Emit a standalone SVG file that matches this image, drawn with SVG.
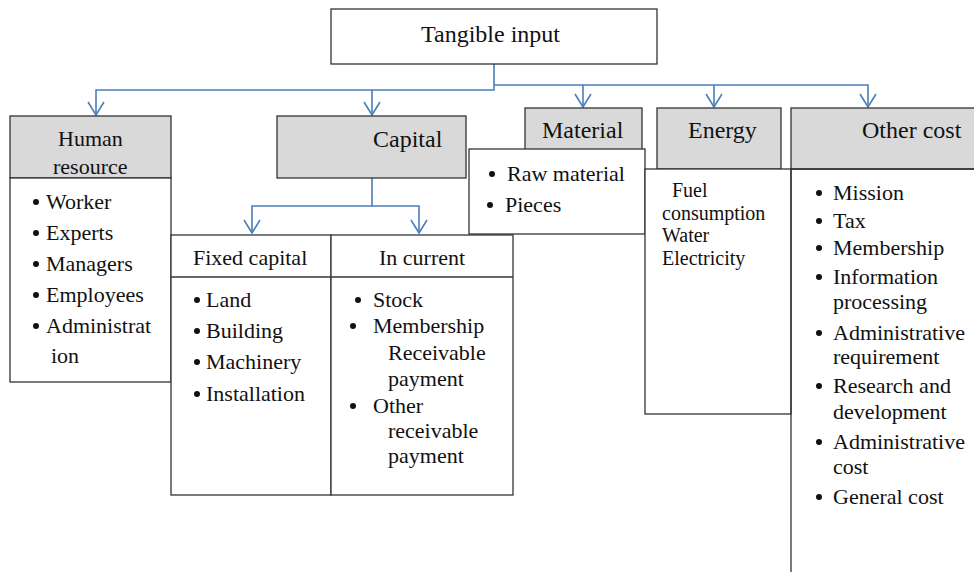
<svg xmlns="http://www.w3.org/2000/svg" width="974" height="572" viewBox="0 0 974 572">
<style>
.box{fill:#fff;stroke:#333;stroke-width:1.3}
.hdr{fill:#d9d9d9;stroke:#333;stroke-width:1.3}
.ln{fill:none;stroke:#333;stroke-width:1.3}
.con{fill:none;stroke:#4a7ebb;stroke-width:1.6}
text{font-family:"Liberation Serif","Times New Roman",serif;fill:#111}
.h{font-size:24px}
.m{font-size:22px}
.s{font-size:20px}
.b{fill:#111}
</style>
<defs>
<marker id="arr" viewBox="-15 -10 17 20" refX="0" refY="0" markerWidth="17" markerHeight="20" markerUnits="userSpaceOnUse" orient="auto">
<path d="M-13,-8 L0,0 L-13,8" fill="none" stroke="#4a7ebb" stroke-width="1.6"/>
</marker>
</defs>
<rect width="974" height="572" fill="#fff"/>

<g id="connectors">
<path class="con" d="M494,64 V90 H96 V115" marker-end="url(#arr)"/>
<path class="con" d="M372,90 V115" marker-end="url(#arr)"/>
<path class="con" d="M494,85 H868 V107" marker-end="url(#arr)"/>
<path class="con" d="M583,85 V107" marker-end="url(#arr)"/>
<path class="con" d="M714,85 V107" marker-end="url(#arr)"/>
<path class="con" d="M372,178 V206 H252 V233" marker-end="url(#arr)"/>
<path class="con" d="M372,206 H419 V233" marker-end="url(#arr)"/>
</g>

<g id="tangible">
<rect class="box" x="331" y="9" width="326" height="55"/>
<text class="h" x="421" y="42">Tangible input</text>
</g>

<g id="human">
<rect class="hdr" x="10" y="116" width="161" height="62"/>
<text class="m" x="58" y="146">Human</text>
<text class="m" x="53" y="174">resource</text>
<rect class="box" x="10" y="178" width="161" height="204"/>
<circle class="b" cx="36" cy="202" r="3"/><text class="m" x="46" y="209">Worker</text>
<circle class="b" cx="36" cy="233" r="3"/><text class="m" x="46" y="240">Experts</text>
<circle class="b" cx="36" cy="264" r="3"/><text class="m" x="46" y="271">Managers</text>
<circle class="b" cx="36" cy="295" r="3"/><text class="m" x="46" y="302">Employees</text>
<circle class="b" cx="36" cy="326" r="3"/><text class="m" x="46" y="333">Administrat</text>
<text class="m" x="51" y="363">ion</text>
</g>

<g id="capital">
<rect class="hdr" x="277" y="116" width="189" height="62"/>
<text class="h" x="373" y="147">Capital</text>
</g>

<g id="fixed">
<rect class="box" x="171" y="235" width="160" height="260"/>
<line class="ln" x1="171" y1="277" x2="331" y2="277"/>
<text class="m" x="193" y="265">Fixed capital</text>
<circle class="b" cx="197" cy="300" r="3"/><text class="m" x="206" y="307">Land</text>
<circle class="b" cx="197" cy="331" r="3"/><text class="m" x="206" y="338">Building</text>
<circle class="b" cx="197" cy="362" r="3"/><text class="m" x="206" y="369">Machinery</text>
<circle class="b" cx="197" cy="394" r="3"/><text class="m" x="206" y="401">Installation</text>
</g>

<g id="current">
<rect class="box" x="331" y="235" width="182" height="260"/>
<line class="ln" x1="331" y1="277" x2="513" y2="277"/>
<text class="m" x="379" y="265">In current</text>
<circle class="b" cx="358" cy="300" r="3"/><text class="m" x="373" y="307">Stock</text>
<circle class="b" cx="353" cy="326" r="3"/><text class="m" x="373" y="333">Membership</text>
<text class="m" x="388" y="360">Receivable</text>
<text class="m" x="388" y="386">payment</text>
<circle class="b" cx="353" cy="406" r="3"/><text class="m" x="373" y="413">Other</text>
<text class="m" x="388" y="438">receivable</text>
<text class="m" x="388" y="463">payment</text>
</g>

<g id="material">
<rect class="hdr" x="525" y="108" width="117" height="45"/>
<text class="h" x="542" y="138">Material</text>
<rect class="box" x="469" y="149" width="176" height="85"/>
<circle class="b" cx="492" cy="174" r="3"/><text class="m" x="507" y="181">Raw material</text>
<circle class="b" cx="490" cy="205" r="3"/><text class="m" x="505" y="212">Pieces</text>
</g>

<g id="energy">
<rect class="hdr" x="657" y="108" width="124" height="61"/>
<text class="h" x="688" y="138">Energy</text>
<rect class="box" x="645" y="169" width="146" height="245"/>
<text class="s" x="672" y="197">Fuel</text>
<text class="s" x="662" y="220">consumption</text>
<text class="s" x="662" y="242">Water</text>
<text class="s" x="662" y="265">Electricity</text>
</g>

<g id="other">
<rect class="hdr" x="791" y="108" width="190" height="61"/>
<text class="h" x="862" y="138">Other cost</text>
<path class="ln" d="M974,169 H791 V572"/>
<circle class="b" cx="819" cy="193" r="3"/><text class="m" x="833" y="200">Mission</text>
<circle class="b" cx="819" cy="221" r="3"/><text class="m" x="833" y="228">Tax</text>
<circle class="b" cx="819" cy="248" r="3"/><text class="m" x="833" y="255">Membership</text>
<circle class="b" cx="819" cy="277" r="3"/><text class="m" x="833" y="284">Information</text>
<text class="m" x="833" y="309">processing</text>
<circle class="b" cx="819" cy="333" r="3"/><text class="m" x="833" y="340">Administrative</text>
<text class="m" x="833" y="364">requirement</text>
<circle class="b" cx="819" cy="386" r="3"/><text class="m" x="833" y="393">Research and</text>
<text class="m" x="833" y="419">development</text>
<circle class="b" cx="819" cy="442" r="3"/><text class="m" x="833" y="449">Administrative</text>
<text class="m" x="833" y="474">cost</text>
<circle class="b" cx="819" cy="497" r="3"/><text class="m" x="833" y="504">General cost</text>
</g>
</svg>
